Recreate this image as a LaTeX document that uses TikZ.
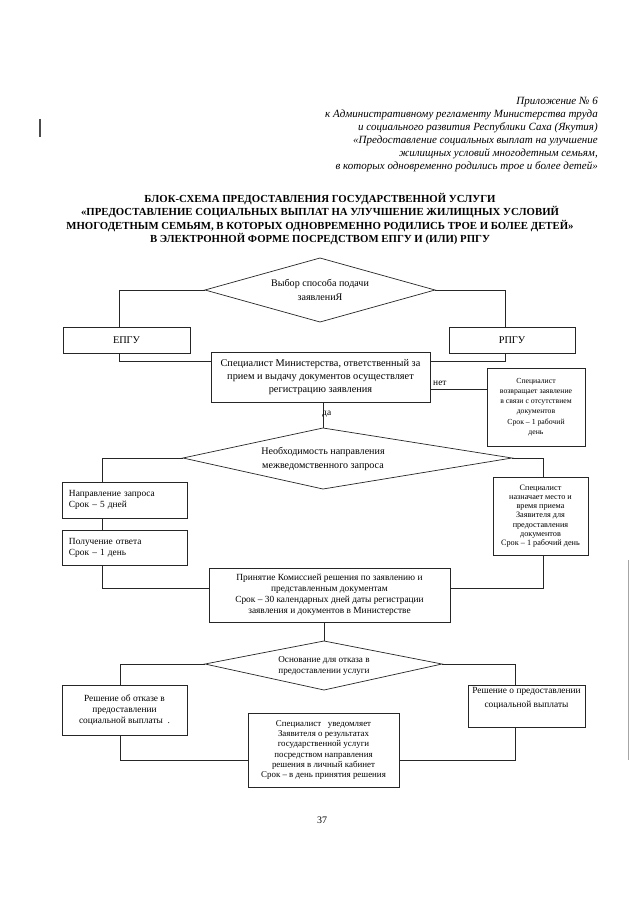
\documentclass[tikz,border=0pt]{standalone}
\usepackage{fontspec}
\setmainfont{Liberation Serif}
\newcommand\fMain{\fontsize{8.8}{10.8}\selectfont}
\newcommand\fMid{\fontsize{8}{9.4}\selectfont}
\newcommand\fSmall{\fontsize{7.6}{8.6}\selectfont}
\newcommand\fTiny{\fontsize{6.6}{8.8}\selectfont}
\newcommand\fNaz{\fontsize{7}{7.9}\selectfont}
\newcommand\fHdr{\fontsize{9.4}{11.1}\selectfont\itshape}
\newcommand\fTitle{\fontsize{9.2}{11.4}\selectfont\bfseries}
\tikzset{
  ln/.style={draw=black!85, line width=0.6pt},
  boxn/.style={draw=black!85, line width=0.6pt, align=center, inner sep=0pt},
  txt/.style={align=center, inner sep=0pt},
}
\begin{document}
\begin{tikzpicture}[x=0.03cm, y=-0.03cm]
\fill[white] (0,0) rectangle (631,904);
\useasboundingbox (0,0) rectangle (631,904);

% header
\node[anchor=north east, align=right, inner sep=0pt, font=\fHdr] (hdr) at (598,97)
 {Приложение № 6\\
  к Административному регламенту Министерства труда\\
  и социального развития Республики Саха (Якутия)\\
  «Предоставление социальных выплат на улучшение\\
  жилищных условий многодетным семьям,\\
  в которых одновременно родились трое и более детей»};

% title
\node[anchor=north, align=center, inner sep=0pt, font=\fTitle] (ttl) at (320,193)
 {БЛОК-СХЕМА ПРЕДОСТАВЛЕНИЯ ГОСУДАРСТВЕННОЙ УСЛУГИ\\
  «ПРЕДОСТАВЛЕНИЕ СОЦИАЛЬНЫХ ВЫПЛАТ НА УЛУЧШЕНИЕ ЖИЛИЩНЫХ УСЛОВИЙ\\
  МНОГОДЕТНЫМ СЕМЬЯМ, В КОТОРЫХ ОДНОВРЕМЕННО РОДИЛИСЬ ТРОЕ И БОЛЕЕ ДЕТЕЙ»\\
  В ЭЛЕКТРОННОЙ ФОРМЕ ПОСРЕДСТВОМ ЕПГУ И (ИЛИ) РПГУ};

% diamond 1
\coordinate (d1t) at (320,258);
\coordinate (d1r) at (435,290);
\coordinate (d1b) at (320,322);
\coordinate (d1l) at (205,290);
\draw[ln] (d1t) -- (d1r) -- (d1b) -- (d1l) -- cycle;
\node[txt, font=\fontsize{8.6}{12}\selectfont] (d1) at (320,290) {Выбор способа подачи\\заявлениЯ};

\node[boxn, minimum width=3.81cm, minimum height=0.78cm, font=\fMain] (epgu) at (126.5,340) {ЕПГУ};
\node[boxn, minimum width=3.78cm, minimum height=0.78cm, font=\fMain] (rpgu) at (512,340) {РПГУ};

\coordinate (c1) at (119,290);
\draw[ln] (d1l) -- (c1) -- (c1 |- epgu.north);
\coordinate (c1r) at (505,290);
\draw[ln] (d1r) -- (c1r) -- (c1r |- rpgu.north);

\node[boxn, minimum width=6.57cm, minimum height=1.5cm, font=\fMain] (spec) at (320.5,377)
 {Специалист Министерства, ответственный за\\
  прием и выдачу документов осуществляет\\
  регистрацию заявления};

\coordinate (c2) at (119,361);
\draw[ln] (c2 |- epgu.south) -- (c2) -- (spec.west |- c2);
\coordinate (c3) at (505,361);
\draw[ln] (c3 |- rpgu.south) -- (c3) -- (spec.east |- c3);

\node[boxn, minimum width=2.94cm, minimum height=2.34cm, font=\fTiny] (ret) at (536,407)
 {Специалист\\возвращает заявление\\в связи с отсутствием\\документов\\Срок – 1 рабочий\\день};
\coordinate (c4) at (430,389);
\draw[ln] (spec.east |- c4) -- (ret.west |- c4);
\node[txt, font=\fMid, anchor=south west] (net) at (433,386) {нет};

% diamond 2
\coordinate (d2t) at (323,428);
\coordinate (d2r) at (512,458);
\coordinate (d2b) at (323,489);
\coordinate (d2l) at (183,458);
\draw[ln] (d2t) -- (d2r) -- (d2b) -- (d2l) -- cycle;
\node[txt, font=\fontsize{8.6}{11.2}\selectfont] (d2) at (323,459) {Необходимость направления\\межведомственного запроса};
\draw[ln] (d2t |- spec.south) -- (d2t);
\node[txt, font=\fMid, anchor=west] (yes) at (322,414) {да};

\node[boxn, align=left, text width=3.33cm, inner xsep=0.21cm, minimum height=1.08cm, font=\fMid] (napr) at (124.5,500)
 {Направление запроса\\Срок – 5 дней};
\node[boxn, align=left, text width=3.33cm, inner xsep=0.21cm, minimum height=1.05cm, font=\fMid] (polu) at (124.5,547.5)
 {Получение ответа\\Срок – 1 день};
\node[boxn, minimum width=2.85cm, minimum height=2.34cm, font=\fNaz] (naz) at (540.5,516)
 {Специалист\\назначает место и\\время приема\\Заявителя для\\предоставления\\документов\\Срок – 1 рабочий день};
\node[boxn, minimum width=7.23cm, minimum height=1.62cm, font=\fMid] (prin) at (329.5,595)
 {Принятие Комиссией решения по заявлению и\\
  представленным документам\\
  Срок – 30 календарных дней даты регистрации\\
  заявления и документов в Министерстве};

\coordinate (c5) at (102,458);
\draw[ln] (d2l) -- (c5) -- (c5 |- napr.north);
\draw[ln] (c5 |- napr.south) -- (c5 |- polu.north);
\coordinate (c6) at (102,588);
\draw[ln] (c5 |- polu.south) -- (c6) -- (prin.west |- c6);
\coordinate (c7) at (543,458);
\draw[ln] (d2r) -- (c7) -- (c7 |- naz.north);
\coordinate (c8) at (543,588);
\draw[ln] (c7 |- naz.south) -- (c8) -- (prin.east |- c8);

% diamond 3
\coordinate (d3t) at (324,641);
\coordinate (d3r) at (442,664);
\coordinate (d3b) at (324,690);
\coordinate (d3l) at (205,664);
\draw[ln] (d3t) -- (d3r) -- (d3b) -- (d3l) -- cycle;
\node[txt, font=\fontsize{7.8}{10}\selectfont] (d3) at (324,666) {Основание для отказа в\\предоставлении услуги};
\draw[ln] (d3t |- prin.south) -- (d3t);

\node[boxn, minimum width=3.75cm, minimum height=1.5cm, font=\fMid] (otk) at (124.5,710)
 {Решение об отказе в\\предоставлении\\социальной выплаты\ \ .};
\node[boxn, minimum width=3.51cm, minimum height=1.26cm, font=\fontsize{8}{12}\selectfont] (pred) at (526.5,706)
 {Решение о предоставлении\\социальной выплаты\\[2pt]};
\node[boxn, minimum width=4.53cm, minimum height=2.22cm, font=\fSmall] (uved) at (323.5,750)
 {Специалист\ \ \ уведомляет\\Заявителя о результатах\\государственной услуги\\посредством направления\\решения в личный кабинет\\Срок – в день принятия решения};

\coordinate (c9) at (120,664);
\draw[ln] (d3l) -- (c9) -- (c9 |- otk.north);
\coordinate (c10) at (515,664);
\draw[ln] (d3r) -- (c10) -- (c10 |- pred.north);
\coordinate (c11) at (120,760);
\draw[ln] (c11 |- otk.south) -- (c11) -- (uved.west |- c11);
\coordinate (c12) at (515,760);
\draw[ln] (c12 |- pred.south) -- (c12) -- (uved.east |- c12);

\node[txt, font=\fontsize{8.5}{10}\selectfont] (pg) at (322,820) {37};

% scan marks
\coordinate (m1) at (40,119);
\coordinate (m2) at (40,137);
\draw[black!70, line width=0.9pt] (m1) -- (m2);
\coordinate (m3) at (628,560);
\coordinate (m4) at (628,760);
\draw[black!35, line width=0.6pt] (m3) -- (m4);
\end{tikzpicture}
\end{document}
